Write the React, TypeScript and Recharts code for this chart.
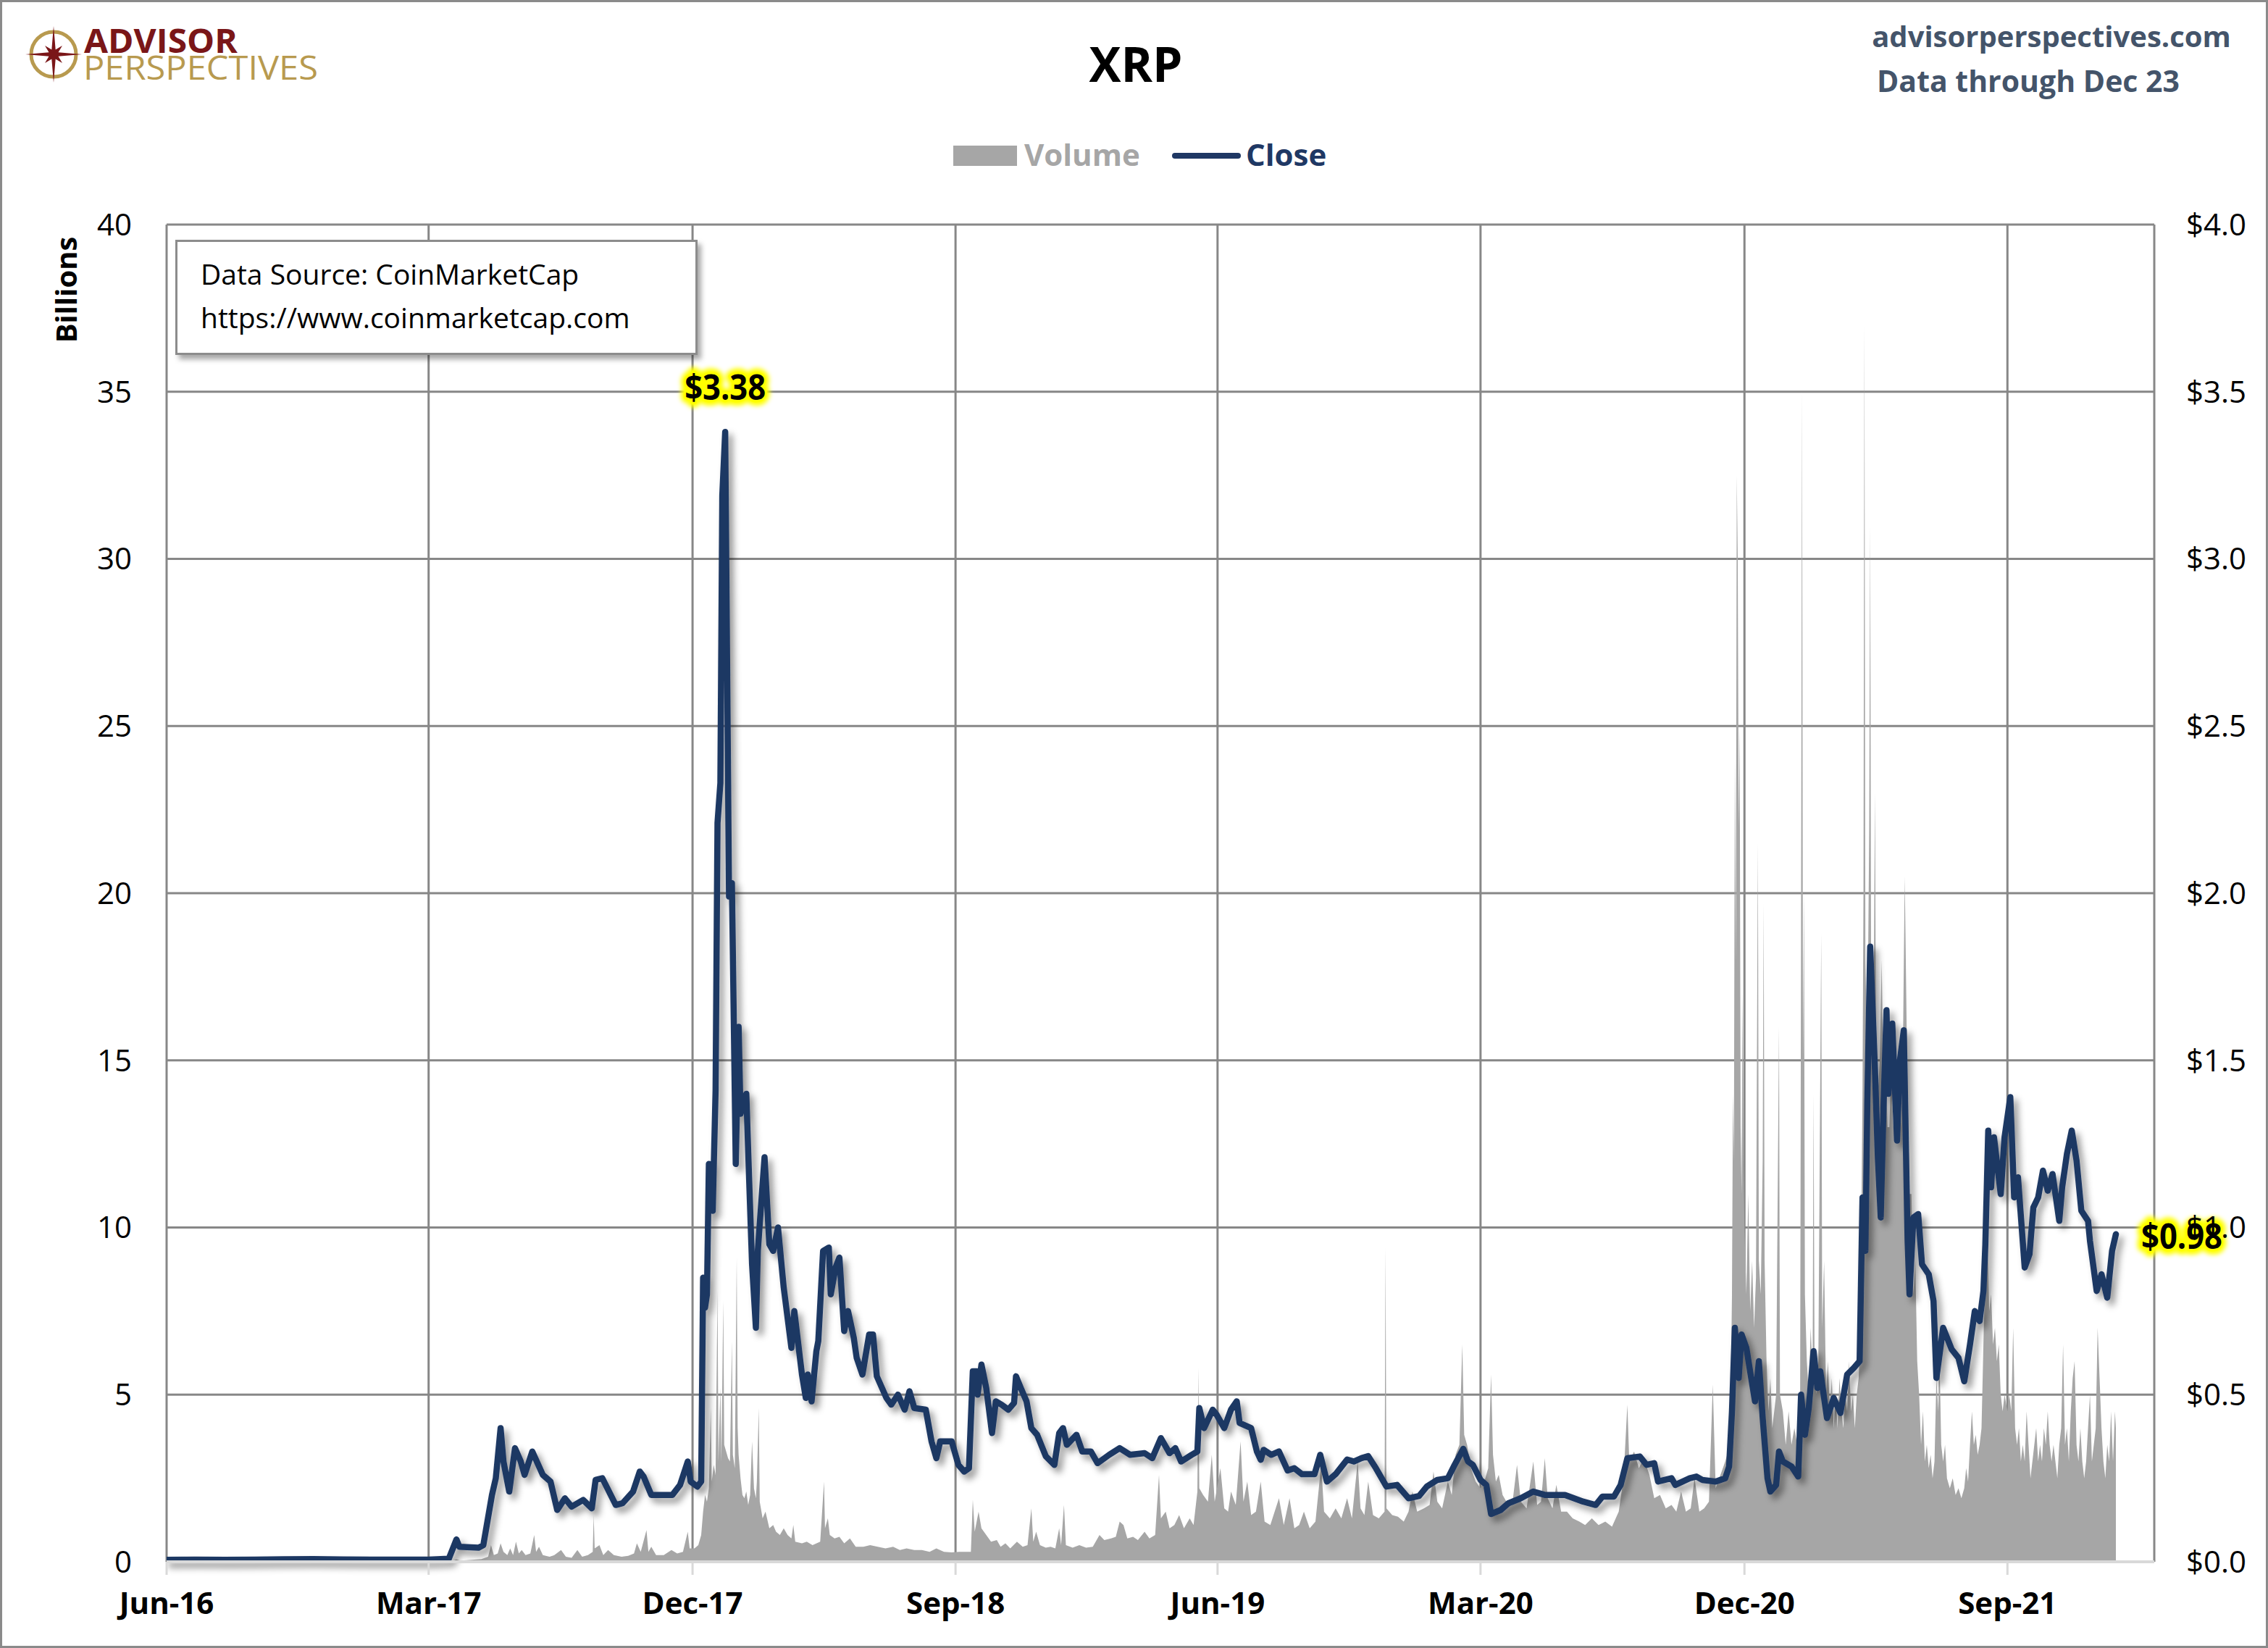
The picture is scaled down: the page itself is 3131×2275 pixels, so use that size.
import React from 'react';
import { ComposedChart, Area, Line, XAxis, YAxis, CartesianGrid, ReferenceDot } from 'recharts';

// ---------- DATA ----------
const closeDates = [
  '2016-06-01','2016-07-01','2016-08-01','2016-09-01','2016-10-01','2016-11-01','2016-12-01','2017-01-01','2017-02-01','2017-03-01',
  '2017-03-22','2017-03-30','2017-04-02','2017-04-22','2017-04-27','2017-05-06','2017-05-10','2017-05-15','2017-05-18','2017-05-24',
  '2017-05-30','2017-06-05','2017-06-09','2017-06-17','2017-06-28','2017-07-06','2017-07-13','2017-07-21','2017-07-28','2017-08-09',
  '2017-08-18','2017-08-22','2017-08-29','2017-09-12','2017-09-19','2017-09-30','2017-10-07','2017-10-11','2017-10-19','2017-10-30',
  '2017-11-10','2017-11-18','2017-11-26','2017-11-29','2017-12-06','2017-12-10','2017-12-12','2017-12-14','2017-12-16','2017-12-18',
  '2017-12-22','2017-12-25','2017-12-27','2017-12-30','2018-01-01','2018-01-04','2018-01-08','2018-01-11','2018-01-15','2018-01-18',
  '2018-01-20','2018-01-26','2018-01-29','2018-02-01','2018-02-05','2018-02-07','2018-02-14','2018-02-19','2018-02-23','2018-02-28',
  '2018-03-06','2018-03-14','2018-03-17','2018-03-25','2018-03-29','2018-03-31','2018-04-04','2018-04-09','2018-04-11','2018-04-16',
  '2018-04-22','2018-04-24','2018-04-29','2018-05-03','2018-05-08','2018-05-12','2018-05-18','2018-05-21','2018-05-27','2018-06-03',
  '2018-06-07','2018-06-11','2018-06-21','2018-06-26','2018-07-03','2018-07-10','2018-07-15','2018-07-20','2018-08-01','2018-08-07',
  '2018-08-12','2018-08-16','2018-08-23','2018-08-28','2018-09-04','2018-09-10','2018-09-15','2018-09-19','2018-09-23','2018-09-24',
  '2018-09-28','2018-10-03','2018-10-09','2018-10-13','2018-10-19','2018-10-26','2018-11-01','2018-11-03','2018-11-08','2018-11-14',
  '2018-11-19','2018-11-25','2018-12-04','2018-12-13','2018-12-18','2018-12-22','2018-12-26','2019-01-05','2019-01-11','2019-01-20',
  '2019-01-27','2019-02-08','2019-02-19','2019-03-02','2019-03-17','2019-03-25','2019-04-03','2019-04-12','2019-04-18','2019-04-24',
  '2019-05-05','2019-05-11','2019-05-13','2019-05-18','2019-05-27','2019-05-31','2019-06-08','2019-06-15','2019-06-21','2019-06-24',
  '2019-07-06','2019-07-12','2019-07-16','2019-07-19','2019-07-27','2019-08-04','2019-08-13','2019-08-20','2019-08-28','2019-09-10',
  '2019-09-16','2019-09-23','2019-10-02','2019-10-14','2019-10-21','2019-10-29','2019-11-05','2019-11-13','2019-11-24','2019-12-05',
  '2019-12-17','2019-12-28','2020-01-05','2020-01-16','2020-01-27','2020-02-03','2020-02-12','2020-02-17','2020-02-22','2020-03-01',
  '2020-03-07','2020-03-12','2020-03-22','2020-03-30','2020-04-12','2020-04-25','2020-05-07','2020-05-28','2020-06-16','2020-06-29',
  '2020-07-06','2020-07-18','2020-07-25','2020-08-01','2020-08-14','2020-08-21','2020-08-29','2020-09-02','2020-09-16','2020-09-20',
  '2020-10-05','2020-10-12','2020-10-18','2020-11-01','2020-11-11','2020-11-15','2020-11-18','2020-11-21','2020-11-25','2020-11-28',
  '2020-12-03','2020-12-08','2020-12-12','2020-12-16','2020-12-20','2020-12-25','2020-12-28','2021-01-03','2021-01-06','2021-01-10',
  '2021-01-19','2021-01-26','2021-01-29','2021-02-02','2021-02-06','2021-02-11','2021-02-15','2021-02-18','2021-02-25','2021-03-04',
  '2021-03-11','2021-03-18','2021-03-25','2021-03-31','2021-04-03','2021-04-06','2021-04-08','2021-04-11','2021-04-16','2021-04-19',
  '2021-04-22','2021-04-25','2021-04-28','2021-04-30','2021-05-04','2021-05-09','2021-05-12','2021-05-16','2021-05-20','2021-05-22',
  '2021-05-26','2021-05-31','2021-06-04','2021-06-11','2021-06-16','2021-06-19','2021-06-26','2021-07-05','2021-07-12','2021-07-18',
  '2021-07-24','2021-07-29','2021-08-03','2021-08-07','2021-08-09','2021-08-12','2021-08-15','2021-08-18','2021-08-25','2021-08-29',
  '2021-09-04','2021-09-08','2021-09-12','2021-09-19','2021-09-24','2021-09-28','2021-10-03','2021-10-08','2021-10-13','2021-10-18',
  '2021-10-25','2021-10-28','2021-11-02','2021-11-07','2021-11-12','2021-11-17','2021-11-24','2021-11-26','2021-12-03','2021-12-08',
  '2021-12-14','2021-12-19','2021-12-23',
];
const closeValues = [
  0.006,0.0065,0.006,0.0065,0.0075,0.008,0.0068,0.0065,0.0063,0.0066,
  0.009,0.067,0.045,0.042,0.05,0.2,0.25,0.4,0.3,0.21,
  0.34,0.3,0.26,0.33,0.26,0.24,0.155,0.19,0.165,0.185,
  0.16,0.245,0.25,0.17,0.175,0.21,0.27,0.255,0.2,0.2,
  0.2,0.23,0.3,0.24,0.225,0.24,0.85,0.76,0.8,1.19,
  1.05,1.41,2.21,2.33,3.19,3.38,1.99,2.03,1.19,1.6,
  1.34,1.4,1.14,0.89,0.7,0.93,1.21,0.95,0.93,1.0,
  0.82,0.64,0.75,0.56,0.49,0.56,0.48,0.63,0.66,0.93,
  0.94,0.8,0.88,0.91,0.69,0.75,0.67,0.61,0.56,0.68,
  0.68,0.555,0.49,0.47,0.5,0.455,0.51,0.46,0.455,0.36,
  0.31,0.36,0.36,0.36,0.29,0.27,0.28,0.57,0.57,0.5,
  0.59,0.52,0.385,0.48,0.47,0.455,0.475,0.555,0.52,0.48,
  0.4,0.38,0.316,0.29,0.385,0.4,0.35,0.38,0.33,0.33,
  0.295,0.32,0.34,0.32,0.325,0.31,0.37,0.325,0.34,0.3,
  0.32,0.33,0.46,0.4,0.455,0.44,0.4,0.455,0.48,0.415,
  0.4,0.33,0.305,0.335,0.32,0.33,0.273,0.28,0.262,0.262,
  0.32,0.24,0.262,0.306,0.3,0.31,0.316,0.28,0.225,0.23,
  0.19,0.197,0.225,0.245,0.25,0.29,0.338,0.3,0.29,0.245,
  0.23,0.143,0.155,0.175,0.19,0.21,0.2,0.2,0.18,0.17,
  0.195,0.195,0.23,0.31,0.315,0.29,0.295,0.24,0.25,0.23,
  0.25,0.255,0.245,0.24,0.25,0.285,0.45,0.7,0.55,0.68,
  0.64,0.55,0.48,0.6,0.43,0.25,0.21,0.23,0.33,0.3,
  0.285,0.255,0.5,0.38,0.46,0.63,0.52,0.57,0.43,0.49,
  0.445,0.56,0.58,0.6,1.09,0.93,1.37,1.84,1.47,1.21,
  1.03,1.37,1.65,1.4,1.61,1.26,1.5,1.59,0.96,0.8,
  1.03,1.04,0.89,0.86,0.78,0.55,0.7,0.635,0.61,0.54,
  0.65,0.75,0.72,0.81,0.95,1.29,1.12,1.27,1.1,1.27,
  1.39,1.09,1.15,0.88,0.92,1.06,1.09,1.17,1.11,1.16,
  1.02,1.12,1.22,1.29,1.2,1.05,1.02,0.96,0.81,0.86,
  0.79,0.93,0.98,
];

const volumeDates = [
  '2016-06-01','2016-09-01','2016-12-01','2017-03-01','2017-03-25','2017-03-30','2017-04-03','2017-04-10','2017-04-25','2017-05-02',
  '2017-05-05','2017-05-08','2017-05-12','2017-05-15','2017-05-18','2017-05-22','2017-05-25','2017-05-28','2017-05-31','2017-06-03',
  '2017-06-06','2017-06-10','2017-06-15','2017-06-19','2017-06-21','2017-06-24','2017-06-28','2017-07-05','2017-07-10','2017-07-17',
  '2017-07-22','2017-07-28','2017-08-03','2017-08-08','2017-08-14','2017-08-19','2017-08-20','2017-08-21','2017-08-26','2017-08-30',
  '2017-09-04','2017-09-10','2017-09-18','2017-09-25','2017-10-01','2017-10-04','2017-10-08','2017-10-14','2017-10-16','2017-10-19',
  '2017-10-24','2017-11-01','2017-11-09','2017-11-15','2017-11-21','2017-11-26','2017-11-28','2017-12-03','2017-12-07','2017-12-10',
  '2017-12-12','2017-12-14','2017-12-16','2017-12-18','2017-12-20','2017-12-21','2017-12-23','2017-12-25','2017-12-27','2017-12-28',
  '2017-12-30','2017-12-31','2018-01-02','2018-01-03','2018-01-05','2018-01-07','2018-01-09','2018-01-11','2018-01-12','2018-01-14',
  '2018-01-16','2018-01-17','2018-01-18','2018-01-20','2018-01-22','2018-01-24','2018-01-26','2018-01-28','2018-01-30','2018-02-01',
  '2018-02-03','2018-02-05','2018-02-06','2018-02-08','2018-02-09','2018-02-12','2018-02-15','2018-02-19','2018-02-23','2018-02-26',
  '2018-03-02','2018-03-06','2018-03-10','2018-03-14','2018-03-16','2018-03-18','2018-03-25','2018-03-30','2018-04-05','2018-04-13',
  '2018-04-17','2018-04-18','2018-04-21','2018-04-23','2018-04-28','2018-05-03','2018-05-08','2018-05-14','2018-05-20','2018-05-28',
  '2018-06-04','2018-06-12','2018-06-20','2018-06-28','2018-07-05','2018-07-12','2018-07-20','2018-07-28','2018-08-05','2018-08-12',
  '2018-08-20','2018-08-28','2018-09-05','2018-09-12','2018-09-17','2018-09-19','2018-09-21','2018-09-25','2018-09-28','2018-10-03',
  '2018-10-08','2018-10-14','2018-10-18','2018-10-23','2018-10-28','2018-11-04','2018-11-10','2018-11-15','2018-11-19','2018-11-21',
  '2018-11-24','2018-11-28','2018-12-04','2018-12-09','2018-12-14','2018-12-18','2018-12-20','2018-12-23','2018-12-25','2019-01-01',
  '2019-01-08','2019-01-15','2019-01-22','2019-01-29','2019-02-03','2019-02-10','2019-02-15','2019-02-19','2019-02-23','2019-02-27',
  '2019-03-05','2019-03-10','2019-03-17','2019-03-22','2019-03-28','2019-04-01','2019-04-03','2019-04-08','2019-04-12','2019-04-17',
  '2019-04-22','2019-04-27','2019-05-03','2019-05-07','2019-05-11','2019-05-12','2019-05-13','2019-05-17','2019-05-22','2019-05-26',
  '2019-05-29','2019-06-04','2019-06-08','2019-06-12','2019-06-15','2019-06-20','2019-06-25','2019-06-28','2019-07-02','2019-07-06',
  '2019-07-11','2019-07-16','2019-07-20','2019-07-26','2019-08-04','2019-08-09','2019-08-15','2019-08-20','2019-08-25','2019-08-30',
  '2019-09-05','2019-09-11','2019-09-17','2019-09-20','2019-09-26','2019-10-02','2019-10-08','2019-10-14','2019-10-19','2019-10-25',
  '2019-10-28','2019-11-01','2019-11-05','2019-11-10','2019-11-16','2019-11-22','2019-11-23','2019-11-24','2019-11-30','2019-12-06',
  '2019-12-12','2019-12-17','2019-12-21','2019-12-26','2020-01-02','2020-01-08','2020-01-12','2020-01-16','2020-01-21','2020-01-27',
  '2020-01-31','2020-02-04','2020-02-08','2020-02-11','2020-02-13','2020-02-16','2020-02-20','2020-02-25','2020-03-01','2020-03-06',
  '2020-03-09','2020-03-12','2020-03-14','2020-03-17','2020-03-20','2020-03-24','2020-03-28','2020-04-03','2020-04-08','2020-04-12',
  '2020-04-18','2020-04-25','2020-04-29','2020-05-03','2020-05-07','2020-05-10','2020-05-15','2020-05-19','2020-05-24','2020-05-30',
  '2020-06-05','2020-06-12','2020-06-18','2020-06-25','2020-07-02','2020-07-09','2020-07-16','2020-07-23','2020-07-28','2020-08-01',
  '2020-08-03','2020-08-08','2020-08-13','2020-08-18','2020-08-24','2020-08-29','2020-09-04','2020-09-10','2020-09-16','2020-09-21',
  '2020-09-26','2020-10-01','2020-10-06','2020-10-10','2020-10-15','2020-10-20','2020-10-25','2020-10-29','2020-11-01','2020-11-06',
  '2020-11-11','2020-11-16','2020-11-18','2020-11-19','2020-11-20','2020-11-21','2020-11-22','2020-11-23','2020-11-24','2020-11-25',
  '2020-11-26','2020-11-27','2020-11-28','2020-11-29','2020-11-30','2020-12-01','2020-12-03','2020-12-05','2020-12-07','2020-12-09',
  '2020-12-11','2020-12-13','2020-12-15','2020-12-16','2020-12-18','2020-12-20','2020-12-21','2020-12-22','2020-12-24','2020-12-26',
  '2020-12-28','2020-12-30','2021-01-01','2021-01-03','2021-01-06','2021-01-07','2021-01-10','2021-01-13','2021-01-16','2021-01-19',
  '2021-01-22','2021-01-25','2021-01-28','2021-01-30','2021-01-31','2021-02-01','2021-02-02','2021-02-04','2021-02-06','2021-02-08',
  '2021-02-10','2021-02-11','2021-02-12','2021-02-14','2021-02-16','2021-02-19','2021-02-20','2021-02-22','2021-02-24','2021-02-26',
  '2021-02-28','2021-03-02','2021-03-04','2021-03-06','2021-03-08','2021-03-10','2021-03-12','2021-03-14','2021-03-16','2021-03-18',
  '2021-03-20','2021-03-22','2021-03-24','2021-03-26','2021-03-28','2021-03-30','2021-04-01','2021-04-03','2021-04-04','2021-04-05',
  '2021-04-06','2021-04-08','2021-04-10','2021-04-11','2021-04-12','2021-04-14','2021-04-16','2021-04-17','2021-04-19','2021-04-21',
  '2021-04-23','2021-04-25','2021-04-27','2021-04-29','2021-05-01','2021-05-03','2021-05-05','2021-05-07','2021-05-09','2021-05-11',
  '2021-05-13','2021-05-15','2021-05-17','2021-05-19','2021-05-20','2021-05-22','2021-05-24','2021-05-26','2021-05-28','2021-05-30',
  '2021-06-01','2021-06-03','2021-06-05','2021-06-07','2021-06-09','2021-06-11','2021-06-13','2021-06-15','2021-06-17','2021-06-19',
  '2021-06-21','2021-06-22','2021-06-24','2021-06-26','2021-06-28','2021-06-30','2021-07-03','2021-07-06','2021-07-09','2021-07-12',
  '2021-07-15','2021-07-18','2021-07-20','2021-07-22','2021-07-24','2021-07-26','2021-07-28','2021-07-30','2021-08-01','2021-08-03',
  '2021-08-05','2021-08-07','2021-08-09','2021-08-11','2021-08-13','2021-08-15','2021-08-17','2021-08-19','2021-08-21','2021-08-23',
  '2021-08-25','2021-08-27','2021-08-29','2021-09-01','2021-09-03','2021-09-05','2021-09-07','2021-09-09','2021-09-11','2021-09-13',
  '2021-09-15','2021-09-17','2021-09-19','2021-09-21','2021-09-23','2021-09-25','2021-09-27','2021-09-29','2021-10-01','2021-10-03',
  '2021-10-05','2021-10-07','2021-10-09','2021-10-11','2021-10-13','2021-10-15','2021-10-17','2021-10-19','2021-10-21','2021-10-23',
  '2021-10-25','2021-10-27','2021-10-29','2021-10-31','2021-11-02','2021-11-04','2021-11-06','2021-11-08','2021-11-10','2021-11-12',
  '2021-11-14','2021-11-16','2021-11-18','2021-11-20','2021-11-22','2021-11-24','2021-11-26','2021-11-28','2021-11-30','2021-12-02',
  '2021-12-04','2021-12-06','2021-12-08','2021-12-10','2021-12-12','2021-12-14','2021-12-16','2021-12-18','2021-12-20','2021-12-22',
  '2021-12-23',
];
const volumeValues = [
  0.001,0.002,0.003,0.004,0.02,0.07,0.04,0.05,0.08,0.15,
  0.5,0.2,0.25,0.55,0.3,0.2,0.4,0.2,0.6,0.25,
  0.35,0.2,0.25,0.8,0.3,0.45,0.2,0.15,0.2,0.35,
  0.15,0.12,0.35,0.15,0.2,0.3,1.4,0.4,0.5,0.2,
  0.35,0.2,0.15,0.18,0.25,0.55,0.3,0.95,0.3,0.45,
  0.2,0.2,0.35,0.25,0.3,0.9,0.4,0.4,0.5,0.8,
  1.5,2.0,1.8,2.2,4.6,2.4,2.9,2.6,8.1,3.0,
  5.2,3.0,7.8,3.5,3.3,3.1,3.0,6.6,3.2,2.8,
  9.1,4.0,3.2,2.5,2.0,1.9,2.1,1.7,2.0,3.6,
  2.2,1.9,2.4,4.6,1.8,1.3,1.5,1.0,1.1,0.9,
  0.8,1.0,0.8,0.7,1.1,0.6,0.55,0.6,0.5,0.6,
  2.4,1.0,1.3,0.8,0.7,0.75,0.55,0.7,0.45,0.45,
  0.5,0.45,0.4,0.45,0.35,0.4,0.35,0.35,0.3,0.4,
  0.3,0.28,0.3,0.3,0.3,1.86,0.9,1.5,1.0,0.8,
  0.6,0.65,0.45,0.55,0.4,0.6,0.45,0.5,1.6,0.6,
  0.9,0.5,0.42,0.45,0.4,1.0,0.5,1.7,0.5,0.42,
  0.5,0.42,0.45,0.8,0.65,0.7,0.75,1.2,1.1,0.7,
  0.75,0.65,0.9,0.7,0.8,2.6,1.3,1.5,1.0,1.1,
  1.4,1.0,1.3,1.1,2.1,5.8,2.2,2.0,1.8,3.2,
  1.8,2.8,1.6,1.5,2.1,1.7,3.6,1.8,2.4,1.4,
  1.5,2.4,1.2,1.1,1.9,1.1,1.9,1.0,1.1,1.5,
  1.0,1.2,2.9,1.5,1.3,1.6,1.3,1.9,1.3,3.0,
  1.6,1.4,2.4,1.4,1.3,1.5,9.4,1.6,1.4,1.35,
  1.2,1.5,2.1,1.5,1.6,1.7,2.7,1.8,1.6,2.4,
  2.0,3.2,3.5,6.5,3.8,3.5,2.8,2.4,2.2,2.5,
  2.8,5.6,3.2,2.4,2.6,2.0,1.8,1.7,2.9,1.8,
  1.6,3.0,1.7,1.8,3.1,1.9,1.6,2.3,1.5,1.5,
  1.3,1.2,1.1,1.3,1.1,1.2,1.05,1.5,2.5,4.7,
  3.0,3.3,2.8,3.1,2.6,1.9,2.0,1.6,1.7,1.5,
  2.1,1.5,1.6,2.5,1.5,1.6,1.8,5.3,2.2,2.6,
  3.0,3.5,8,14,12,24,18,32.5,30,22,
  25,13,11,17,12,10,8,11,7.5,9,
  7,8.5,21.5,9,8,12,19.7,9,6,4.5,
  5.5,4,4.5,5,16,5,4.5,3.5,4.5,3.5,
  4,3.5,4.5,35,15,20,8,6,5,7,
  5.5,14,6,5,6,18.8,7,9,5,6,
  4.5,5.5,4,5,4,5.5,4.5,4,5,4.5,
  6,4.5,5,4,5,5.5,7,14,20,37,
  18,15,22,31,17,14,23,16,14,15,
  18,14,15,13,13,15,13,16,13,15,
  13,15,20.5,16,14,11,11,8,9,6,
  5,3.5,4.5,3,3.5,2.8,3.2,2.5,3,5.5,
  4.5,6.5,3.5,3,3.5,2.5,2.2,2.5,2,2.2,
  1.9,2.2,2.8,2.4,3.5,4.5,3.5,3.8,3.2,3.5,
  4,6.5,9,10,7.5,8,6.5,7,6,6.5,
  5,4.5,5,4.5,5,4.5,7,4,3.5,4,
  3,3.5,3,4.5,3.5,2.5,3,3.5,4,3,
  3.5,3,4,3.5,4.5,3.5,3,3.5,3,2.5,
  3.5,4,6.5,3.5,4,3,4.5,5.5,6,3.5,
  3,4,3,2.5,3,4,5,3,3.5,4,
  7,5.5,4,3,2.5,3.5,3,4.5,3,4.5,
  4,
];

const xTickDates = ['2016-06-01','2017-03-01','2017-12-01','2018-09-01','2019-06-01','2020-03-01','2020-12-01','2021-09-01'];
const xDomainDates = ['2016-06-01','2022-02-01'];
const leftTicks = [0, 5, 10, 15, 20, 25, 30, 35, 40];
const rightTicks = [0, 0.5, 1.0, 1.5, 2.0, 2.5, 3.0, 3.5, 4.0];
const peakDate = '2018-01-04';
const peakValue = 3.38;
const lastDate = '2021-12-23';
const lastValue = 0.98;
const MONTHS = ['Jan','Feb','Mar','Apr','May','Jun','Jul','Aug','Sep','Oct','Nov','Dec'];

// ---------- helpers ----------
const toTs = (d: string) => Date.parse(d + 'T00:00:00Z');
const closeData = closeDates.map((d, i) => ({ t: toTs(d), close: closeValues[i] }));
const volumeData = volumeDates.map((d, i) => ({ t: toTs(d), volume: volumeValues[i] }));
const fmtX = (v: number) => {
  const d = new Date(v);
  return `${MONTHS[d.getUTCMonth()]}-${String(d.getUTCFullYear()).slice(2)}`;
};

const FONT = '"Open Sans", "Noto Sans", sans-serif';
const NAVY = '#1f3864';
const GRAY = '#a6a6a6';
const SLATE = '#44546a';

const GlowLabel = ({ x, y, text, anchor }: { x: number; y: number; text: string; anchor: string }) => {
  const common = { x, y, textAnchor: anchor, fontFamily: FONT, fontWeight: 700, fontSize: 49, textLength: 112, lengthAdjust: 'spacingAndGlyphs' } as any;
  return (
    <g>
      <text {...common} fill="#ffff00" stroke="#ffff00" strokeWidth={16} strokeLinejoin="round" filter="url(#glowBlur)">{text}</text>
      <text {...common} fill="#ffff00" stroke="#ffff00" strokeWidth={7} strokeLinejoin="round">{text}</text>
      <text {...common} fill="#000">{text}</text>
    </g>
  );
};

const starPath = (() => {
  const cx = 74, cy = 75;
  const pts: string[] = [];
  for (let k = 0; k < 16; k++) {
    const a = (k * 22.5 - 90) * Math.PI / 180;
    const r = k % 4 === 0 ? 39 : k % 4 === 2 ? 17 : 7;
    pts.push(`${(cx + r * Math.cos(a)).toFixed(1)},${(cy + r * Math.sin(a)).toFixed(1)}`);
  }
  return 'M' + pts.join('L') + 'Z';
})();

export default function App() {
  return (
    <div style={{ position: 'absolute', left: 0, top: 0, width: 3131, height: 2275, background: '#fff', overflow: 'hidden' }}>
      {/* shared SVG filters */}
      <svg width={0} height={0} style={{ position: 'absolute' }}>
        <defs>
          <filter id="lineShadow" x="-5%" y="-5%" width="115%" height="115%">
            <feDropShadow dx="6" dy="7" stdDeviation="5" floodColor="#000" floodOpacity="0.4" />
          </filter>
          <filter id="glowBlur" x="-20%" y="-40%" width="140%" height="180%">
            <feGaussianBlur stdDeviation="3" />
          </filter>
        </defs>
      </svg>

      <div style={{ position: 'absolute', left: 0, top: 0 }}>
        <ComposedChart width={3131} height={2275} margin={{ top: 310, right: 0, bottom: 0, left: 0 }}>
          <CartesianGrid yAxisId="left" stroke="#878787" strokeWidth={3} />
          <XAxis
            dataKey="t"
            type="number"
            domain={[toTs(xDomainDates[0]), toTs(xDomainDates[1])]}
            ticks={xTickDates.map(toTs)}
            tickFormatter={fmtX}
            allowDataOverflow
            height={119}
            axisLine={{ stroke: '#d9d9d9', strokeWidth: 4 }}
            tickLine={{ stroke: '#d9d9d9', strokeWidth: 3 }}
            tickSize={18}
            tickMargin={24}
            tick={{ fontFamily: FONT, fontWeight: 700, fontSize: 42, fill: '#000' }}
          />
          <YAxis
            yAxisId="left"
            orientation="left"
            domain={[0, 40]}
            ticks={leftTicks}
            width={230}
            axisLine={false}
            tickLine={false}
            tickSize={0}
            tickMargin={48}
            tick={{ fontFamily: FONT, fontSize: 42, fill: '#000' }}
          />
          <YAxis
            yAxisId="right"
            orientation="right"
            domain={[0, 4]}
            ticks={rightTicks}
            width={157}
            axisLine={false}
            tickLine={false}
            tickSize={0}
            tickMargin={44}
            tickFormatter={(v: number) => `$${v.toFixed(1)}`}
            tick={{ fontFamily: FONT, fontSize: 42, fill: '#000' }}
          />
          <Area
            data={volumeData}
            dataKey="volume"
            yAxisId="left"
            type="linear"
            stroke="none"
            fill={GRAY}
            fillOpacity={1}
            dot={false}
            activeDot={false}
            isAnimationActive={false}
          />
          <Line
            data={closeData}
            dataKey="close"
            yAxisId="right"
            type="linear"
            stroke={NAVY}
            strokeWidth={8.5}
            strokeLinejoin="round"
            strokeLinecap="round"
            dot={false}
            activeDot={false}
            filter="url(#lineShadow)"
            style={{ filter: 'url(#lineShadow)' }}
            isAnimationActive={false}
          />
          <ReferenceDot
            yAxisId="right"
            x={toTs(peakDate)}
            y={peakValue}
            r={0}
            ifOverflow="visible"
            shape={(p: any) => <GlowLabel x={p.cx} y={p.cy - 44} text={`$${peakValue.toFixed(2)}`} anchor="middle" />}
          />
          <ReferenceDot
            yAxisId="right"
            x={toTs(lastDate)}
            y={lastValue}
            r={0}
            ifOverflow="visible"
            shape={(p: any) => <GlowLabel x={p.cx + 35} y={p.cy + 20} text={`$${lastValue.toFixed(2)}`} anchor="start" />}
          />
        </ComposedChart>
      </div>

      {/* header, legend, axis title */}
      <svg width={3131} height={2275} style={{ position: 'absolute', left: 0, top: 0, pointerEvents: 'none' }}>
        {/* logo */}
        <circle cx={74} cy={75} r={31} fill="none" stroke="#b89a4f" strokeWidth={5} />
        <path d={starPath} fill="#7a1618" />
        <text x={116} y={73} fontFamily={FONT} fontWeight={700} fontSize={47} fill="#7a1618"
          textLength={212} lengthAdjust="spacingAndGlyphs">ADVISOR</text>
        <text x={115} y={110} fontFamily={FONT} fontWeight={400} fontSize={46} fill="#b89a4f"
          textLength={324} lengthAdjust="spacingAndGlyphs">PERSPECTIVES</text>

        {/* title */}
        <text x={1568} y={113} textAnchor="middle" fontFamily={FONT} fontWeight={700} fontSize={66} fill="#000">XRP</text>

        {/* site + date */}
        <text x={2832} y={65} textAnchor="middle" fontFamily={FONT} fontWeight={700} fontSize={40} fill={SLATE}>advisorperspectives.com</text>
        <text x={2800} y={127} textAnchor="middle" fontFamily={FONT} fontWeight={700} fontSize={41} fill={SLATE}>Data through Dec 23</text>

        {/* legend */}
        <rect x={1316} y={201} width={88} height={28} fill={GRAY} />
        <text x={1414} y={229} fontFamily={FONT} fontWeight={700} fontSize={42} fill={GRAY}>Volume</text>
        <line x1={1622} y1={215} x2={1709} y2={215} stroke={NAVY} strokeWidth={8} strokeLinecap="round" />
        <text x={1720} y={229} fontFamily={FONT} fontWeight={700} fontSize={42} fill={NAVY}>Close</text>

        {/* axis title */}
        <text x={0} y={0} transform="translate(106,400) rotate(-90)" textAnchor="middle" fontFamily={FONT} fontWeight={700} fontSize={40} fill="#000">Billions</text>
      </svg>

      {/* data source box */}
      <div style={{
        position: 'absolute', left: 242, top: 331, width: 721, height: 159, boxSizing: 'border-box',
        border: '3px solid #8c8c8c', background: '#fff', boxShadow: '5px 6px 7px rgba(0,0,0,0.35)',
        paddingLeft: 32, paddingTop: 14, fontFamily: FONT, fontSize: 39, lineHeight: '60px', color: '#000',
      }}>
        <div>Data Source: CoinMarketCap</div>
        <div>https://www.coinmarketcap.com</div>
      </div>

      {/* outer frame */}
      <div style={{ position: 'absolute', left: 0, top: 0, width: 3131, height: 2275, boxSizing: 'border-box', border: '3px solid #8a8a8a', pointerEvents: 'none' }} />
    </div>
  );
}
